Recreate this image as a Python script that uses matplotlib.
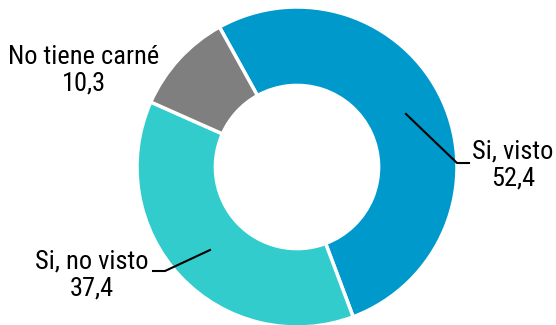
import matplotlib.pyplot as plt

labels = ["Si, visto", "Si, no visto", "No tiene carné"]
values = [52.4, 37.4, 10.3]
colors = ["#0099CC", "#33CCCC", "#7F7F7F"]

# pixel layout helpers: center of the ring and outer radius
cx, cy, R = 297, 167, 160
W, H = 556, 325

def px(x, y):
    return ((x - cx) / R, (cy - y) / R)

fig = plt.figure(figsize=(W / 100, H / 100), dpi=100)
ax = fig.add_axes([0, 0, 1, 1])
ax.pie(values, colors=colors, startangle=119, counterclock=False,
       radius=1, wedgeprops=dict(width=0.49, edgecolor="white", linewidth=2.5))
ax.set_xlim(-cx / R, (W - cx) / R)
ax.set_ylim(-(H - cy) / R, cy / R)
ax.set_aspect("equal")
ax.axis("off")

font = dict(family=["Roboto Condensed", "DejaVu Sans"],
            fontsize=19, ha="center", va="center", color="black")

def fmt(v):
    return f"{v:.1f}".replace(".", ",")

# label positions (pixels) and leader lines
label_pos = [(513, 165), (92, 275), (84, 70)]
leaders = [
    [(406, 114), (457, 163), (469, 163)],
    [(210, 250), (165, 271), (153, 271)],
    None,
]

for lab, v, (lx, ly), ld in zip(labels, values, label_pos, leaders):
    x, y = px(lx, ly)
    ax.text(x, y, f"{lab}\n{fmt(v)}", linespacing=1.15, **font)
    if ld:
        pts = [px(a, b) for a, b in ld]
        ax.plot([p[0] for p in pts], [p[1] for p in pts], color="black", lw=1.5)

fig.savefig("out.png", dpi=100)
